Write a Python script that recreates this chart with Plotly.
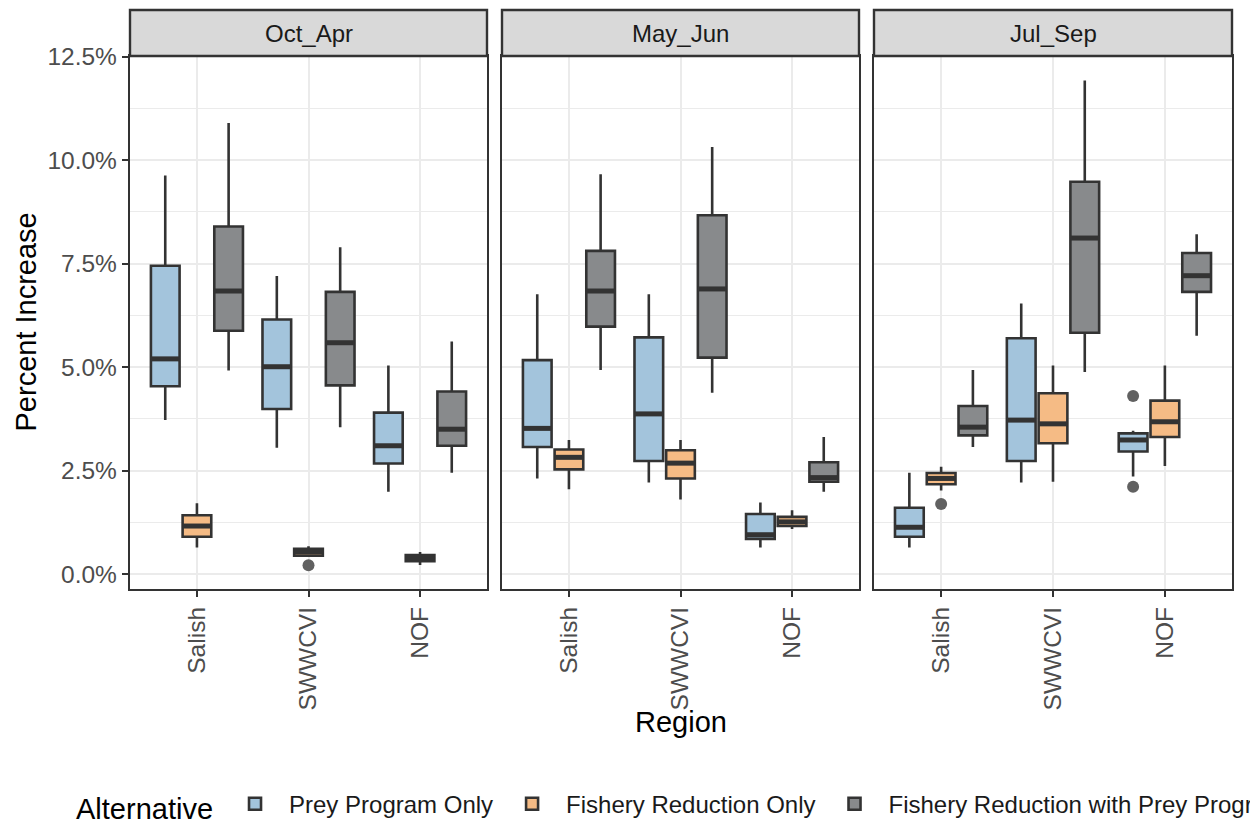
import plotly.graph_objects as go

# ---------------- data (percent increase) ----------------
seasons = ["Oct_Apr", "May_Jun", "Jul_Sep"]
regions = ["Salish", "SWWCVI", "NOF"]
alternatives = ["Prey Program Only", "Fishery Reduction Only",
                "Fishery Reduction with Prey Program"]

# order: Oct_Apr (Salish, SWWCVI, NOF), May_Jun (...), Jul_Sep (...)
prey_lo  = [3.72, 3.05, 1.99, 2.31, 2.21, 0.64, 0.64, 2.21, 2.36]
prey_q1  = [4.54, 3.99, 2.67, 3.07, 2.73, 0.85, 0.90, 2.73, 2.96]
prey_med = [5.20, 5.01, 3.10, 3.52, 3.87, 0.95, 1.13, 3.72, 3.24]
prey_q3  = [7.45, 6.15, 3.90, 5.17, 5.72, 1.45, 1.60, 5.70, 3.40]
prey_hi  = [9.63, 7.20, 5.04, 6.76, 6.76, 1.73, 2.45, 6.54, 3.46]

fish_lo  = [0.64, 0.42, 0.22, 2.05, 1.80, 1.09, 2.02, 2.23, 2.61]
fish_q1  = [0.90, 0.44, 0.31, 2.53, 2.31, 1.16, 2.17, 3.16, 3.31]
fish_med = [1.16, 0.53, 0.39, 2.82, 2.68, 1.26, 2.31, 3.63, 3.68]
fish_q3  = [1.42, 0.61, 0.46, 3.01, 2.99, 1.38, 2.44, 4.37, 4.19]
fish_hi  = [1.71, 0.67, 0.53, 3.24, 3.24, 1.54, 2.59, 5.04, 5.04]

both_lo  = [4.92, 3.55, 2.45, 4.93, 4.38, 1.99, 3.07, 4.88, 5.76]
both_q1  = [5.88, 4.56, 3.10, 5.98, 5.23, 2.23, 3.35, 5.83, 6.82]
both_med = [6.84, 5.59, 3.50, 6.84, 6.89, 2.33, 3.55, 8.12, 7.21]
both_q3  = [8.40, 6.82, 4.41, 7.81, 8.67, 2.70, 4.06, 9.48, 7.76]
both_hi  = [10.90, 7.90, 5.62, 9.66, 10.32, 3.31, 4.93, 11.93, 8.21]

outlier_season = ["Oct_Apr", "Jul_Sep", "Jul_Sep", "Jul_Sep"]
outlier_region = ["SWWCVI", "Salish", "NOF", "NOF"]
outlier_alt    = [1, 1, 0, 0]
outlier_value  = [0.21, 1.69, 4.30, 2.11]

y_ticks = [0.0, 2.5, 5.0, 7.5, 10.0, 12.5]
y_ticktext = ["0.0%", "2.5%", "5.0%", "7.5%", "10.0%", "12.5%"]
y_minor = [1.25, 3.75, 6.25, 8.75, 11.25]

# ---------------- style ----------------
fills = ["#A3C4DC", "#F5BB85", "#888A8C"]
stats = [
    (prey_lo, prey_q1, prey_med, prey_q3, prey_hi),
    (fish_lo, fish_q1, fish_med, fish_q3, fish_hi),
    (both_lo, both_q1, both_med, both_q3, both_hi),
]
dodge = [-0.284, 0.0, 0.284]
box_w = 0.257
dark = "#333333"
FONT = "Liberation Sans, Arial, sans-serif"

OFF = 8  # page body margin
W, H = 1258 - OFF, 824 - OFF
ML, MR, MT = 130 - OFF, 0, 56 - OFF
BOTTOM = 589.3 - OFF
MB = H - BOTTOM
pw = W - ML - MR
ph = H - MT - MB
panel_px = [(0, 357), (372, 729), (744, 1102)]
domains = [(a / pw, b / pw) for a, b in panel_px]


def py(y_ref):
    """reference pixel y -> paper y"""
    return (BOTTOM - (y_ref - OFF)) / ph


def px(x_ref):
    return ((x_ref - OFF) - ML) / pw


fig = go.Figure()

for si, season in enumerate(seasons):
    xa = "x" if si == 0 else f"x{si + 1}"
    ya = "y" if si == 0 else f"y{si + 1}"
    sl = slice(si * 3, si * 3 + 3)
    for gi, alt in enumerate(alternatives):
        lo, q1, med, q3, hi = stats[gi]
        xs = [ri + dodge[gi] for ri in range(len(regions))]
        fig.add_trace(go.Box(
            x=xs, q1=q1[sl], median=med[sl], q3=q3[sl],
            lowerfence=lo[sl], upperfence=hi[sl],
            width=box_w, whiskerwidth=0, boxpoints=False,
            fillcolor=fills[gi], line=dict(color=dark, width=2.6),
            name=alt, legendgroup=alt, showlegend=(si == 0),
            xaxis=xa, yaxis=ya, hoverinfo="skip", orientation="v",
        ))
    # thick median lines (ggplot fatten)
    for gi, alt in enumerate(alternatives):
        med = stats[gi][2][sl]
        mx, my = [], []
        for ri in range(len(regions)):
            c = ri + dodge[gi]
            mx += [c - box_w / 2, c + box_w / 2, None]
            my += [med[ri], med[ri], None]
        fig.add_trace(go.Scatter(
            x=mx, y=my, mode="lines", line=dict(color=dark, width=5),
            showlegend=False, hoverinfo="skip", xaxis=xa, yaxis=ya,
        ))
    ox, oy = [], []
    for s, r, a, v in zip(outlier_season, outlier_region, outlier_alt, outlier_value):
        if s == season:
            ox.append(regions.index(r) + dodge[a])
            oy.append(v)
    if ox:
        fig.add_trace(go.Scatter(
            x=ox, y=oy, mode="markers",
            marker=dict(color="#616161", size=12, line=dict(width=0)),
            showlegend=False, hoverinfo="skip", xaxis=xa, yaxis=ya,
        ))

axis_common = dict(
    showline=True, mirror=True, linecolor=dark, linewidth=2.4,
    showgrid=True, gridcolor="#EBEBEB", gridwidth=2, zeroline=False,
    ticks="outside", ticklen=6, tickwidth=2.4, tickcolor=dark,
    tickfont=dict(family=FONT, size=24.5, color="#4D4D4D"),
)

layout = dict(
    width=W, height=H,
    margin=dict(l=ML, r=MR, t=MT, b=MB, autoexpand=False),
    paper_bgcolor="white", plot_bgcolor="white",
    font=dict(family=FONT, color="black"),
    showlegend=True,
    legend=dict(
        orientation="h", x=px(74), xanchor="left",
        y=py(806), yanchor="middle",
        font=dict(family=FONT, size=24, color="#1A1A1A"),
        title=dict(text="Alternative", side="left",
                   font=dict(family=FONT, size=29, color="black")),
        itemwidth=58, bgcolor="rgba(0,0,0,0)",
    ),
)

for si in range(3):
    xk = "xaxis" if si == 0 else f"xaxis{si + 1}"
    yk = "yaxis" if si == 0 else f"yaxis{si + 1}"
    ya = "y" if si == 0 else f"y{si + 1}"
    xa = "x" if si == 0 else f"x{si + 1}"
    layout[xk] = dict(
        axis_common, domain=list(domains[si]), anchor=ya,
        range=[-0.6, 2.6], tickvals=list(range(len(regions))), ticktext=regions,
        tickangle=-90,
    )
    layout[yk] = dict(
        axis_common, domain=[0, 1], anchor=xa,
        range=[-0.362, 12.52], tickvals=y_ticks, ticktext=y_ticktext,
        minor=dict(tickvals=y_minor, showgrid=True, gridcolor="#EBEBEB",
                   gridwidth=1, ticks=""),
        showticklabels=(si == 0),
    )
    if si > 0:
        layout[yk]["ticks"] = ""
        layout[yk]["matches"] = "y"

strip_h = 46 / ph
shapes = []
annotations = []
for si, season in enumerate(seasons):
    d0, d1 = domains[si]
    shapes.append(dict(type="rect", xref="paper", yref="paper",
                       x0=d0, x1=d1, y0=1, y1=1 + strip_h,
                       fillcolor="#D9D9D9", line=dict(color=dark, width=2.4),
                       layer="above"))
    annotations.append(dict(text=season, xref="paper", yref="paper",
                            x=(d0 + d1) / 2, y=1 + strip_h / 2,
                            xanchor="center", yanchor="middle", showarrow=False,
                            font=dict(family=FONT, size=24, color="#1A1A1A")))

annotations.append(dict(text="Region", xref="paper", yref="paper",
                        x=(domains[0][0] + domains[2][1]) / 2, y=py(722),
                        xanchor="center", yanchor="middle", showarrow=False,
                        font=dict(family=FONT, size=29, color="black")))
annotations.append(dict(text="Percent Increase", xref="paper", yref="paper",
                        x=px(25), y=0.5, textangle=-90,
                        xanchor="center", yanchor="middle", showarrow=False,
                        font=dict(family=FONT, size=29, color="black")))

layout["shapes"] = shapes
layout["annotations"] = annotations
fig.update_layout(**layout)

fig.write_html("out.html")
